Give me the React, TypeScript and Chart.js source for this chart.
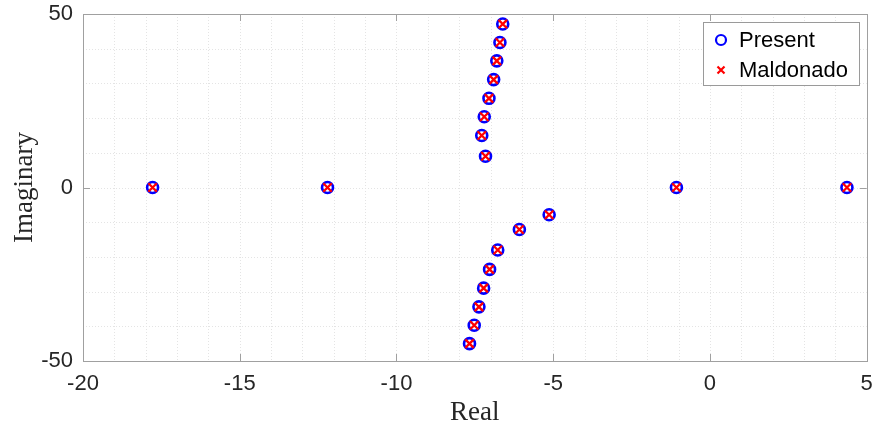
import React, { useEffect, useRef } from "react";
import { Chart, registerables } from "chart.js";

Chart.register(...registerables);

const presentReal = [-17.78, -12.2, -1.07, 4.37, -6.61, -6.7, -6.8, -6.9, -7.05, -7.2, -7.28, -7.16, -5.13, -6.08, -6.77, -7.03, -7.22, -7.37, -7.52, -7.67];
const presentImag = [0, 0, 0, 0, 47.1, 41.8, 36.5, 31.1, 25.7, 20.4, 15.0, 9.0, -7.85, -12.1, -18.0, -23.6, -29.0, -34.4, -39.7, -45.0];
const maldonadoReal = [-17.78, -12.2, -1.07, 4.37, -6.61, -6.7, -6.8, -6.9, -7.05, -7.2, -7.28, -7.16, -5.13, -6.08, -6.77, -7.03, -7.22, -7.37, -7.52, -7.67];
const maldonadoImag = [0, 0, 0, 0, 47.1, 41.8, 36.5, 31.1, 25.7, 20.4, 15.0, 9.0, -7.85, -12.1, -18.0, -23.6, -29.0, -34.4, -39.7, -45.0];

const xTickLabels = [-20, -15, -10, -5, 0, 5];
const yTickLabels = [-50, 0, 50];
const seriesNames = ["Present", "Maldonado"];

const AXIS_COLOR = "#a0a0a0";
const TEXT_COLOR = "#262626";
const BLUE = "#0000ff";
const RED = "#ff0000";

const framePlugin = {
  id: "frame",
  beforeDatasetsDraw(chart: any) {
    const { ctx, chartArea: a, scales } = chart;
    const xs = scales.x;
    const ys = scales.y;
    ctx.save();
    ctx.strokeStyle = "#e4e4e4";
    ctx.lineWidth = 1;
    ctx.setLineDash([1, 2]);
    for (let v = xs.min + 1; v < xs.max; v += 1) {
      const px = Math.round(xs.getPixelForValue(v)) + 0.5;
      ctx.beginPath();
      ctx.moveTo(px, a.top);
      ctx.lineTo(px, a.bottom);
      ctx.stroke();
    }
    for (let v = ys.min + 10; v < ys.max; v += 10) {
      const py = Math.round(ys.getPixelForValue(v)) + 0.5;
      ctx.beginPath();
      ctx.moveTo(a.left, py);
      ctx.lineTo(a.right, py);
      ctx.stroke();
    }
    ctx.setLineDash([]);
    ctx.strokeStyle = AXIS_COLOR;
    ctx.lineWidth = 1;
    ctx.strokeRect(Math.round(a.left) + 0.5, Math.round(a.top) + 0.5, Math.round(a.right - a.left), Math.round(a.bottom - a.top));
    const tl = 7;
    xTickLabels.forEach((v) => {
      const px = Math.round(xs.getPixelForValue(v)) + 0.5;
      ctx.beginPath();
      ctx.moveTo(px, a.bottom);
      ctx.lineTo(px, a.bottom - tl);
      ctx.moveTo(px, a.top);
      ctx.lineTo(px, a.top + tl);
      ctx.stroke();
    });
    yTickLabels.forEach((v) => {
      const py = Math.round(ys.getPixelForValue(v)) + 0.5;
      ctx.beginPath();
      ctx.moveTo(a.left, py);
      ctx.lineTo(a.left + tl, py);
      ctx.moveTo(a.right, py);
      ctx.lineTo(a.right - tl, py);
      ctx.stroke();
    });
    ctx.restore();
  },
};

const legendPlugin = {
  id: "boxLegend",
  afterDraw(chart: any) {
    const { ctx } = chart;
    const x0 = 703.5;
    const y0 = 22.5;
    const w = 156;
    const h = 63;
    ctx.save();
    ctx.fillStyle = "#ffffff";
    ctx.fillRect(x0, y0, w, h);
    ctx.strokeStyle = "#9a9a9a";
    ctx.lineWidth = 1;
    ctx.strokeRect(x0, y0, w, h);
    const mx = 721;
    const rows = [40, 70];
    ctx.strokeStyle = BLUE;
    ctx.lineWidth = 2.2;
    ctx.beginPath();
    ctx.arc(mx, rows[0], 5, 0, Math.PI * 2);
    ctx.stroke();
    ctx.strokeStyle = RED;
    const c = 3.5;
    ctx.beginPath();
    ctx.moveTo(mx - c, rows[1] - c);
    ctx.lineTo(mx + c, rows[1] + c);
    ctx.moveTo(mx - c, rows[1] + c);
    ctx.lineTo(mx + c, rows[1] - c);
    ctx.stroke();
    ctx.fillStyle = "#000000";
    ctx.font = "22px 'Liberation Sans', Arial, sans-serif";
    ctx.textBaseline = "middle";
    ctx.textAlign = "left";
    ctx.fillText(chart.data.datasets[0].label, 739, rows[0] + 1);
    ctx.fillText(chart.data.datasets[1].label, 739, rows[1] + 1);
    ctx.restore();
  },
};

export default function App() {
  const canvasRef = useRef<HTMLCanvasElement | null>(null);

  useEffect(() => {
    if (!canvasRef.current) return;
    const chart = new Chart(canvasRef.current, {
      type: "scatter",
      data: {
        datasets: [
          {
            label: seriesNames[0],
            data: presentReal.map((x, i) => ({ x, y: presentImag[i] })),
            pointStyle: "circle",
            pointRadius: 5.5,
            pointBorderWidth: 2.6,
            pointBorderColor: BLUE,
            pointBackgroundColor: "rgba(0,0,0,0)",
            borderColor: BLUE,
            backgroundColor: "rgba(0,0,0,0)",
            order: 2,
          },
          {
            label: seriesNames[1],
            data: maldonadoReal.map((x, i) => ({ x, y: maldonadoImag[i] })),
            pointStyle: "crossRot",
            pointRadius: 6,
            pointBorderWidth: 2.3,
            pointBorderColor: RED,
            pointBackgroundColor: RED,
            borderColor: RED,
            backgroundColor: RED,
            order: 1,
          },
        ],
      },
      options: {
        animation: false,
        responsive: true,
        maintainAspectRatio: false,
        layout: { padding: { left: 0, right: 7, top: 14, bottom: 0 } },
        plugins: { legend: { display: false }, tooltip: { enabled: false } },
        scales: {
          x: {
            type: "linear",
            min: -20,
            max: 5,
            afterFit(scale: any) {
              scale.height = 71;
              scale.paddingLeft = 0;
              scale.paddingRight = 0;
              scale.paddingTop = 0;
              scale.paddingBottom = 0;
            },
            grid: { display: false, drawTicks: false },
            border: { display: false },
            ticks: {
              stepSize: 1,
              autoSkip: false,
              maxRotation: 0,
              padding: 10,
              color: TEXT_COLOR,
              font: { family: "'Liberation Sans', Arial, sans-serif", size: 22 },
              callback: (v: any) => (xTickLabels.includes(Number(v)) ? String(v) : ""),
            },
            title: {
              display: true,
              text: "Real",
              color: TEXT_COLOR,
              font: { family: "'Liberation Serif', 'Times New Roman', serif", size: 27 },
              padding: { top: 0, bottom: 3 },
            },
          },
          y: {
            type: "linear",
            min: -50,
            max: 50,
            afterFit(scale: any) {
              scale.width = 83;
              scale.paddingLeft = 0;
              scale.paddingRight = 0;
              scale.paddingTop = 0;
              scale.paddingBottom = 0;
            },
            grid: { display: false, drawTicks: false },
            border: { display: false },
            ticks: {
              stepSize: 10,
              autoSkip: false,
              padding: 10,
              color: TEXT_COLOR,
              font: { family: "'Liberation Sans', Arial, sans-serif", size: 22 },
              callback: (v: any) => (yTickLabels.includes(Number(v)) ? String(v) : ""),
            },
            title: {
              display: true,
              text: "Imaginary",
              color: TEXT_COLOR,
              font: { family: "'Liberation Serif', 'Times New Roman', serif", size: 27 },
              padding: { top: 9, bottom: 0 },
            },
          },
        },
      },
      plugins: [framePlugin, legendPlugin],
    });
    return () => chart.destroy();
  }, []);

  return (
    <div style={{ position: "absolute", left: 0, top: 0, width: 875, height: 432, background: "#ffffff" }}>
      <canvas ref={canvasRef} />
    </div>
  );
}
